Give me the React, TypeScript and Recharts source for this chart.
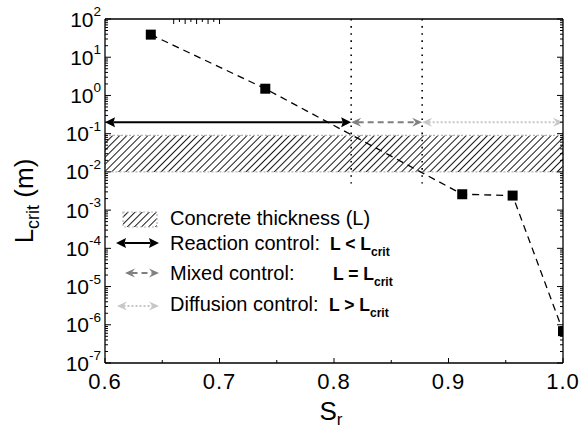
import React from "react";
import {
  ComposedChart,
  Line,
  XAxis,
  YAxis,
  ReferenceArea,
  ReferenceLine,
  Label,
} from "recharts";

const W = 579;
const H = 433;
// axes are 1px thick, so plot area = 105..563 x 19..363
const MARGIN = { top: 18, right: 15, bottom: 69, left: 104 };
const PLOT_RIGHT = W - MARGIN.right - 1;
const FONT = '"Liberation Sans", Arial, Helvetica, sans-serif';

// degree of saturation S_r vs. critical length L_crit (m)
const srValues = [0.64, 0.74, 0.912, 0.956, 1.0];
const lcritValues = [39, 1.5, 0.0026, 0.0024, 6.8e-7];

const xTicks = [0.6, 0.65, 0.7, 0.75, 0.8, 0.85, 0.9, 0.95, 1.0];
const xTickLabels = ["0.6", "", "0.7", "", "0.8", "", "0.9", "", "1.0"];
const yExponents = [-7, -6, -5, -4, -3, -2, -1, 0, 1, 2];

// regime limits on S_r and the level where the arrows sit
const regimeBounds = [0.6, 0.815, 0.877, 1.0];
const regimeLevel = 0.2;
const dividerTop = 100;
const dividerBottom = 0.005;
const concreteBand = [0.01, 0.09];

const legendLabels = [
  "Concrete thickness (L)",
  "Reaction control:",
  "Mixed control:",
  "Diffusion control:",
];
const legendRelations = ["", "L < L", "L = L", "L > L"];

// major decades + 2..9 minor marks
const yTicks: number[] = [];
yExponents.forEach((e, i) => {
  yTicks.push(Math.pow(10, e));
  if (i < yExponents.length - 1) {
    for (let m = 2; m <= 9; m++) yTicks.push(m * Math.pow(10, e));
  }
});

const isDecade = (v: number) =>
  Math.abs(Math.log10(v) - Math.round(Math.log10(v))) < 1e-6;

type ArrowStyle = {
  color: string;
  width: number;
  dash?: string;
  headLen: number;
  headHalf: number;
  notch: number;
};

const ARROWS: ArrowStyle[] = [
  { color: "#000", width: 2, headLen: 10, headHalf: 5, notch: 1.5 },
  { color: "#7f7f7f", width: 2, dash: "6 4", headLen: 10, headHalf: 4.5, notch: 3.5 },
  { color: "#c6c6c6", width: 2, dash: "2 2", headLen: 10, headHalf: 4.5, notch: 3.5 },
];

function Arrow({ x1, x2, y, s }: { x1: number; x2: number; y: number; s: ArrowStyle }) {
  const a = Math.min(x1, x2);
  const b = Math.max(x1, x2);
  const L = s.headLen;
  return (
    <g>
      <line
        x1={a + L - s.notch}
        x2={b - L + s.notch}
        y1={y}
        y2={y}
        stroke={s.color}
        strokeWidth={s.width}
        strokeDasharray={s.dash}
      />
      <polygon
        points={`${a},${y} ${a + L},${y - s.headHalf} ${a + L - s.notch},${y} ${a + L},${y + s.headHalf}`}
        fill={s.color}
      />
      <polygon
        points={`${b},${y} ${b - L},${y - s.headHalf} ${b - L + s.notch},${y} ${b - L},${y + s.headHalf}`}
        fill={s.color}
      />
    </g>
  );
}

const SquareDot = (props: any) => {
  const { cx, cy } = props;
  if (cx == null || cy == null) return null;
  const half = 5;
  const right = Math.min(cx + half, PLOT_RIGHT);
  return (
    <rect
      key={`dot-${cx}`}
      x={cx - half}
      y={cy - half}
      width={right - (cx - half)}
      height={half * 2}
      fill="#000"
    />
  );
};

const LeftTick = (props: any) => {
  const { x, y, payload } = props;
  const v = payload.value;
  const major = isDecade(v);
  return (
    <g>
      <line x1={x} x2={x + (major ? 6 : 3)} y1={y} y2={y} stroke="#000" strokeWidth={1} />
      {major && (
        <text
          x={x - 4}
          y={y + 7.5}
          textAnchor="end"
          fontFamily={FONT}
          fontSize={21}
          fill="#000"
        >
          10
          <tspan fontSize={13.5} dy={-10.5}>
            {String(Math.round(Math.log10(v)))}
          </tspan>
        </text>
      )}
    </g>
  );
};

const RightTick = (props: any) => {
  const { x, y, payload } = props;
  const major = isDecade(payload.value);
  return <line x1={x} x2={x - (major ? 6 : 3)} y1={y} y2={y} stroke="#000" strokeWidth={1} />;
};

const BottomTick = (props: any) => {
  const { x, y, payload, index } = props;
  const label = xTickLabels[index] ?? "";
  return (
    <g>
      <line x1={x} x2={x} y1={y} y2={y - (label ? 5 : 3)} stroke="#000" strokeWidth={1} />
      {label && (
        <text
          x={x}
          y={y + 26}
          textAnchor="middle"
          fontFamily={FONT}
          fontSize={22}
          letterSpacing={1}
          fill="#000"
        >
          {label}
        </text>
      )}
    </g>
  );
};

const TopTick = (props: any) => {
  const { x, y, index } = props;
  const label = xTickLabels[index] ?? "";
  return <line x1={x} x2={x} y1={y} y2={y + (label ? 5 : 3)} stroke="#000" strokeWidth={1} />;
};

const axisLine = { stroke: "#000", strokeWidth: 1.3 };

export default function App() {
  const data = srValues.map((sr, i) => ({ sr, lcrit: lcritValues[i] }));
  const legendRows = [225, 250, 280, 311];
  const legendRelX = [0, 330, 333, 329];

  return (
    <div style={{ position: "absolute", left: 0, top: 0, width: W, height: H, background: "#fff" }}>
      <svg width={0} height={0} style={{ position: "absolute" }}>
        <defs>
          <pattern
            id="hatch"
            width={5}
            height={5}
            patternUnits="userSpaceOnUse"
            patternTransform="rotate(45)"
          >
            <rect x={0} y={0} width={0.9} height={5} fill="#000" />
          </pattern>
        </defs>
      </svg>
      <ComposedChart width={W} height={H} data={data} margin={MARGIN}>
        <XAxis
          dataKey="sr"
          type="number"
          domain={[0.6, 1.0]}
          allowDataOverflow
          ticks={xTicks}
          interval={0}
          height={1}
          tickLine={false}
          tickSize={0}
          tickMargin={0}
          tick={BottomTick}
          axisLine={axisLine}
        >
          <Label
            content={(p: any) => {
              const vb = p.viewBox;
              return (
                <text
                  x={vb.x + vb.width / 2 - 3}
                  y={vb.y + 57}
                  textAnchor="middle"
                  fontFamily={FONT}
                  fontSize={26}
                  fill="#000"
                >
                  S
                  <tspan fontSize={17} dy={5}>
                    r
                  </tspan>
                </text>
              );
            }}
          />
        </XAxis>
        <XAxis
          xAxisId="top"
          orientation="top"
          type="number"
          domain={[0.6, 1.0]}
          allowDataOverflow
          ticks={xTicks}
          interval={0}
          height={1}
          tickLine={false}
          tickSize={0}
          tickMargin={0}
          tick={TopTick}
          axisLine={axisLine}
        />
        <YAxis
          type="number"
          scale="log"
          domain={[1e-7, 100]}
          allowDataOverflow
          ticks={yTicks}
          interval={0}
          width={1}
          tickLine={false}
          tickSize={0}
          tickMargin={0}
          tick={LeftTick}
          axisLine={axisLine}
        >
          <Label
            content={(p: any) => {
              const vb = p.viewBox;
              const cx = 33;
              const cy = vb.y + vb.height / 2 + 10;
              return (
                <text
                  x={cx}
                  y={cy}
                  transform={`rotate(-90, ${cx}, ${cy})`}
                  textAnchor="middle"
                  fontFamily={FONT}
                  fontSize={26}
                  fill="#000"
                >
                  L
                  <tspan fontSize={18} dy={6}>
                    crit
                  </tspan>
                  <tspan dy={-6}> (m)</tspan>
                </text>
              );
            }}
          />
        </YAxis>
        <YAxis
          yAxisId="right"
          orientation="right"
          type="number"
          scale="log"
          domain={[1e-7, 100]}
          allowDataOverflow
          ticks={yTicks}
          interval={0}
          width={1}
          tickLine={false}
          tickSize={0}
          tickMargin={0}
          tick={RightTick}
          axisLine={axisLine}
        />

        <ReferenceArea
          x1={regimeBounds[0]}
          x2={regimeBounds[3]}
          y1={concreteBand[0]}
          y2={concreteBand[1]}
          fill="url(#hatch)"
          fillOpacity={1}
          stroke="#b5b5b5"
          strokeDasharray="2 2"
          strokeWidth={1.2}
          ifOverflow="visible"
        />
        {[regimeBounds[1], regimeBounds[2]].map((x) => (
          <ReferenceLine
            key={`div-${x}`}
            segment={[
              { x, y: dividerTop },
              { x, y: dividerBottom },
            ]}
            stroke="#000"
            strokeWidth={1.6}
            strokeDasharray="1.6 5.5"
            ifOverflow="visible"
          />
        ))}
        <Line
          type="linear"
          dataKey="lcrit"
          stroke="#000"
          strokeWidth={1.3}
          strokeDasharray="7 5"
          dot={SquareDot}
          activeDot={false}
          isAnimationActive={false}
        />
        {ARROWS.map((s, i) => (
          <ReferenceLine
            key={`arrow-${i}`}
            segment={[
              { x: regimeBounds[i], y: regimeLevel },
              { x: regimeBounds[i + 1], y: regimeLevel },
            ]}
            ifOverflow="visible"
            shape={(p: any) => <Arrow x1={p.x1} x2={p.x2} y={p.y1} s={s} />}
          />
        ))}
      </ComposedChart>

      <svg
        width={W}
        height={H}
        style={{ position: "absolute", left: 0, top: 0, pointerEvents: "none" }}
      >
        <rect
          x={123}
          y={212}
          width={34}
          height={15}
          fill="url(#hatch)"
          stroke="#b5b5b5"
          strokeDasharray="2 2"
          strokeWidth={1.2}
        />
        <Arrow x1={116} x2={159} y={243} s={ARROWS[0]} />
        <Arrow x1={125} x2={159} y={273} s={ARROWS[1]} />
        <Arrow x1={117} x2={159} y={306} s={ARROWS[2]} />
        {legendLabels.map((t, i) => (
          <g key={t}>
            <text x={170} y={legendRows[i]} fontFamily={FONT} fontSize={20} fill="#000">
              {t}
            </text>
            {legendRelations[i] && (
              <text
                x={legendRelX[i]}
                y={legendRows[i]}
                fontFamily={FONT}
                fontSize={17.5}
                fontWeight="bold"
                fill="#000"
                style={{ whiteSpace: "pre" }}
              >
                {legendRelations[i]}
                <tspan fontSize={12} dy={6}>
                  crit
                </tspan>
              </text>
            )}
          </g>
        ))}
      </svg>
    </div>
  );
}
